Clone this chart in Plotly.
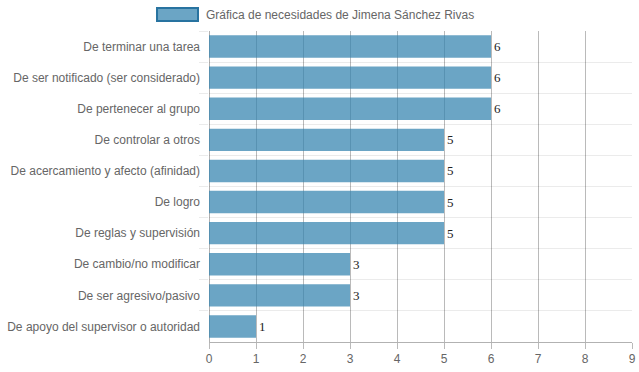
import plotly.graph_objects as go

categories = [
    "De terminar una tarea",
    "De ser notificado (ser considerado)",
    "De pertenecer al grupo",
    "De controlar a otros",
    "De acercamiento y afecto (afinidad)",
    "De logro",
    "De reglas y supervisión",
    "De cambio/no modificar",
    "De ser agresivo/pasivo",
    "De apoyo del supervisor o autoridad",
]
values = [6, 6, 6, 5, 5, 5, 5, 3, 3, 1]
x_ticks = [0, 1, 2, 3, 4, 5, 6, 7, 8, 9]
legend_label = "Gráfica de necesidades de Jimena Sánchez Rivas"

pos = list(range(len(categories)))

fig = go.Figure()
fig.add_trace(go.Bar(
    x=values,
    y=pos,
    orientation="h",
    marker=dict(color="rgba(50,130,175,0.72)", line=dict(width=0)),
    text=[str(v) for v in values],
    textposition="outside",
    textfont=dict(family="Liberation Serif", size=13, color="#222"),
    cliponaxis=False,
    showlegend=False,
    width=0.72,
))

fig.update_layout(
    width=639,
    height=372,
    margin=dict(l=209, r=7, t=31, b=30),
    paper_bgcolor="white",
    plot_bgcolor="white",
    font=dict(family="Liberation Sans, Arial, sans-serif", size=12, color="#666"),
    xaxis=dict(
        range=[0, 9],
        tickvals=x_ticks,
        automargin=False,
        showgrid=True,
        gridcolor="rgba(0,0,0,0.27)",
        gridwidth=1,
        zeroline=True,
        zerolinecolor="rgba(0,0,0,0.3)",
        zerolinewidth=1,
        showline=True,
        linecolor="rgba(0,0,0,0.3)",
        ticks="outside",
        ticklen=6,
        tickcolor="rgba(0,0,0,0.27)",
        tickfont=dict(size=12, color="#666"),
        fixedrange=True,
    ),
    yaxis=dict(
        range=[len(categories) - 0.5, -0.5],
        tickvals=pos,
        ticktext=categories,
        automargin=False,
        showgrid=False,
        zeroline=False,
        ticks="",
        ticklabelstandoff=8,
        tickfont=dict(size=12, color="#666"),
        minor=dict(
            tickvals=[p + 0.5 for p in pos[:-1]] + [-0.5],
            showgrid=True,
            gridcolor="rgba(0,0,0,0.08)",
            gridwidth=1,
            ticks="outside",
            ticklen=9,
            tickcolor="rgba(0,0,0,0.08)",
        ),
        fixedrange=True,
    ),
    shapes=[dict(
        type="rect", xref="paper", yref="paper",
        x0=-0.1229, x1=-0.026, y0=1.032, y1=1.074,
        fillcolor="rgba(50,130,175,0.72)",
        line=dict(color="rgba(40,115,160,1)", width=2),
    )],
    annotations=[dict(
        text=legend_label, xref="paper", yref="paper",
        x=-0.0118, y=1.053, xanchor="left", yanchor="middle",
        showarrow=False, font=dict(size=12, color="#666"),
    )],
)

fig.write_html(
    "out.html",
    config={"displayModeBar": False},
    post_script="document.body.style.margin='0';document.body.style.padding='0';",
)
